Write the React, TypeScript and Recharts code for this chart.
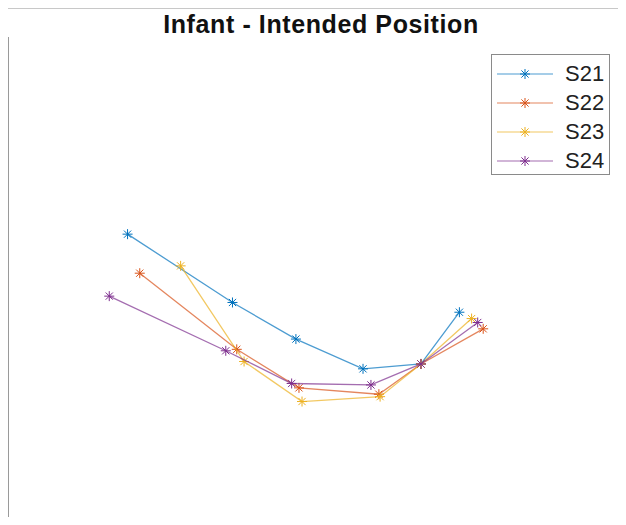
import { ScatterChart, Scatter, XAxis, YAxis } from 'recharts';

const seriesNames = ['S21', 'S22', 'S23', 'S24'];
const seriesColors = ['#0072BD', '#D95319', '#EDB120', '#7E2F8E'];

const s21X = [19.6, 36.8, 47.2, 58.2, 67.7, 74.0];
const s21Y = [59.6, 45.6, 38.1, 32.0, 33.0, 43.6];
const s22X = [21.6, 37.5, 47.7, 60.8, 67.7, 77.9];
const s22Y = [51.6, 36.0, 28.1, 26.8, 33.0, 40.2];
const s23X = [28.3, 38.7, 48.2, 61.0, 67.7, 76.0];
const s23Y = [53.1, 33.5, 25.3, 26.3, 33.0, 42.3];
const s24X = [16.6, 35.7, 46.5, 59.5, 67.7, 77.0];
const s24Y = [46.9, 35.7, 29.0, 28.7, 33.0, 41.5];

const allX = [s21X, s22X, s23X, s24X];
const allY = [s21Y, s22Y, s23Y, s24Y];

const series = seriesNames.map((name, i) => ({
  name,
  color: seriesColors[i],
  data: allX[i].map((x, j) => ({ x, y: allY[i][j] })),
}));

const Star = (props: any) => {
  const { cx, cy, fill } = props;
  const r = 5;
  const d = r * 0.72;
  return (
    <g stroke={fill} strokeWidth={1}>
      <line x1={cx - r} y1={cy} x2={cx + r} y2={cy} />
      <line x1={cx} y1={cy - r} x2={cx} y2={cy + r} />
      <line x1={cx - d} y1={cy - d} x2={cx + d} y2={cy + d} />
      <line x1={cx - d} y1={cy + d} x2={cx + d} y2={cy - d} />
    </g>
  );
};

const LegendBox = () => (
  <div
    style={{
      position: 'absolute',
      left: 491,
      top: 54,
      width: 119,
      height: 121,
      border: '1px solid #8a8a8a',
      background: '#fff',
      fontFamily: 'Liberation Sans, Arial, sans-serif',
      boxSizing: 'border-box',
      paddingTop: 4,
    }}
  >
    {series.map((s) => (
      <div key={s.name} style={{ display: 'flex', alignItems: 'center', height: 29 }}>
        <svg width={68} height={20} style={{ display: 'block' }}>
          <line x1={5} y1={10} x2={61} y2={10} stroke={s.color} strokeOpacity={0.7} strokeWidth={1.2} />
          <Star cx={33} cy={10} fill={s.color} />
        </svg>
        <span style={{ fontSize: 22, color: '#222', marginLeft: 5 }}>{s.name}</span>
      </div>
    ))}
  </div>
);

export default function App() {
  return (
    <div style={{ margin: '-8px', position: 'relative', width: 626, height: 525, background: '#fff' }}>
      <div style={{ position: 'absolute', left: 5, top: 8, width: 621, height: 1, background: '#c8c8c8' }} />
      {/* y axis line, no ticks in the original */}
      <div style={{ position: 'absolute', left: 7, top: 37, width: 2, height: 488, background: '#9a9a9a' }} />
      <div
        style={{
          position: 'absolute',
          left: 0,
          width: 642,
          top: 10,
          textAlign: 'center',
          fontFamily: 'Liberation Sans, Arial, sans-serif',
          fontWeight: 'bold',
          fontSize: 25,
          letterSpacing: 0.6,
          color: '#111',
        }}
      >
        Infant - Intended Position
      </div>
      <ScatterChart width={626} height={525} margin={{ top: 37, right: 8, bottom: 0, left: 8 }}>
        <XAxis type="number" dataKey="x" domain={[0, 100]} hide />
        <YAxis type="number" dataKey="y" domain={[0, 100]} hide />
        {series.map((s) => (
          <Scatter
            key={s.name}
            name={s.name}
            data={s.data}
            fill={s.color}
            line={{ stroke: s.color, strokeWidth: 1.3, strokeOpacity: 0.7 }}
            lineType="joint"
            shape={<Star />}
            isAnimationActive={false}
          />
        ))}
      </ScatterChart>
      <LegendBox />
    </div>
  );
}
